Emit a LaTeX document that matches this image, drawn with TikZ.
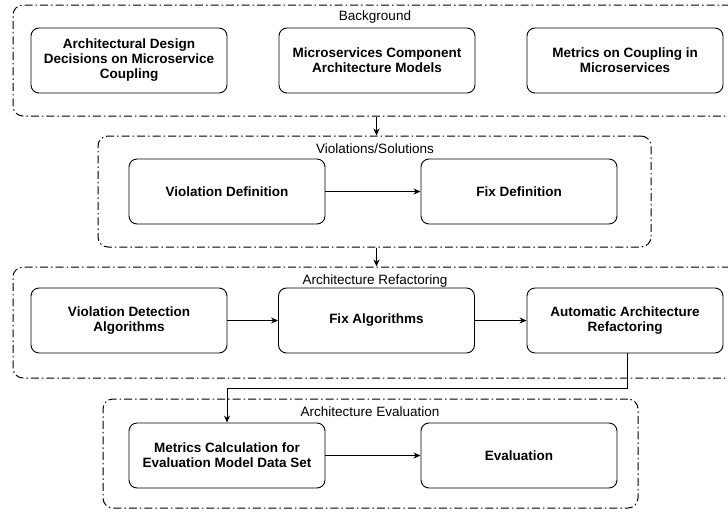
\documentclass[tikz,border=0pt]{standalone}
\usepackage{fontspec}
\setmainfont{Liberation Sans}
\usetikzlibrary{arrows.meta,positioning}

\tikzset{
  stagebox/.style={draw, rounded corners=8pt, line width=0.9pt, minimum width=196pt, minimum height=65pt,
    inner sep=2pt, align=center, font=\fontsize{13.5}{15}\selectfont\bfseries},
  groupbox/.style={draw, rounded corners=10pt, line width=1pt,
    dash pattern=on 8pt off 3pt on 1.5pt off 3pt, inner sep=0pt},
  grouptitle/.style={font=\fontsize{13.5}{15}\selectfont, inner sep=0pt},
  flow/.style={-{Stealth[length=7pt,width=6pt]}, line width=0.9pt},
}

\begin{document}
\begin{tikzpicture}[x=1pt, y=-1pt]
  \path[use as bounding box, clip] (0,0) rectangle (728,514);

  % groups
  \node[groupbox, minimum width=727pt, minimum height=111pt] (background) at (376.5,60.5) {};
  \node[groupbox, minimum width=553pt, minimum height=111pt] (violations) at (374.5,191.5) {};
  \node[groupbox, minimum width=727pt, minimum height=111pt] (refactoring) at (376.5,322.5) {};
  \node[groupbox, minimum width=535pt, minimum height=109pt] (evaluation) at (370.5,453.5) {};

  \node[grouptitle] (backgroundTitle) at (375,17) {Background};
  \node[grouptitle] (violationsTitle) at (375,149) {Violations/Solutions};
  \node[grouptitle] (refactoringTitle) at (375,281) {Architecture Refactoring};
  \node[grouptitle] (evaluationTitle) at (370,412) {Architecture Evaluation};

  % background row
  \node[stagebox] (decisions) at (129,60.5) {Architectural Design\\Decisions on Microservice\\Coupling};
  \node[stagebox] (models) at (377,60.5) {Microservices Component\\Architecture Models};
  \node[stagebox] (couplingMetrics) at (625,60.5) {Metrics on Coupling in\\Microservices};

  % violations/solutions row
  \node[stagebox] (violationDef) at (227,191.5) {Violation Definition};
  \node[stagebox] (fixDef) at (519,191.5) {Fix Definition};

  % refactoring row
  \node[stagebox] (detection) at (129,320.5) {Violation Detection\\Algorithms};
  \node[stagebox] (fixAlgo) at (376.5,320.5) {Fix Algorithms};
  \node[stagebox] (autoRefactor) at (625,320.5) {Automatic Architecture\\Refactoring};

  % evaluation row
  \node[stagebox] (metricsCalc) at (227,455.5) {Metrics Calculation for\\Evaluation Model Data Set};
  \node[stagebox] (evalBox) at (519,455.5) {Evaluation};

  % connectors
  \draw[flow] (background.south) -- (background.south |- violations.north);
  \draw[flow] (violations.south -| background.south) -- (background.south |- refactoring.north);
  \draw[flow] (violationDef) -- (fixDef);
  \draw[flow] (detection) -- (fixAlgo);
  \draw[flow] (fixAlgo) -- (autoRefactor);
  \draw[flow] ([xshift=2pt]autoRefactor.south) -- ++(0,35) -| (metricsCalc.north);
  \draw[flow] (metricsCalc) -- (evalBox);
\end{tikzpicture}
\end{document}
